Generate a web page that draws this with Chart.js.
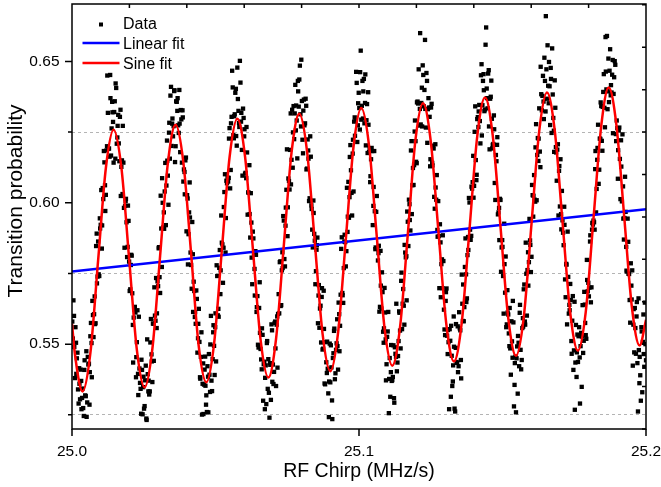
<!DOCTYPE html>
<html>
<head>
<meta charset="utf-8">
<script src="https://cdn.jsdelivr.net/npm/chart.js@4.4.1/dist/chart.umd.min.js"></script>
<style>
  html, body { margin: 0; padding: 0; background: #fff; }
</style>
</head>
<body>
<canvas id="chart" width="661" height="487"></canvas>
<script>
const FONT = '"Liberation Sans", Arial, Helvetica, sans-serif';

// measured transition probability vs RF chirp, first sweep (one row per oscillation)
const dataX = [
  25.0001,25.0005,25.0008,25.0012,25.0015,25.0019,25.0023,25.0026,25.0030,25.0033,
  25.0037,25.0041,25.0044,25.0048,25.0051,25.0055,25.0059,25.0062,25.0066,25.0069,25.0073,25.0077,25.0080,25.0084,25.0087,25.0091,25.0095,25.0098,25.0102,25.0105,25.0109,25.0113,25.0116,25.0120,25.0123,25.0127,25.0131,25.0134,25.0138,25.0141,25.0145,25.0149,25.0152,25.0156,25.0159,25.0163,25.0167,25.0170,25.0174,25.0177,25.0181,25.0185,25.0188,25.0192,25.0195,25.0199,25.0203,25.0206,25.0210,25.0213,25.0217,25.0221,25.0224,25.0228,25.0231,25.0235,25.0239,25.0242,25.0246,25.0249,
  25.0253,25.0257,25.0260,25.0264,25.0267,25.0271,25.0275,25.0278,25.0282,25.0285,25.0289,25.0293,25.0296,25.0300,25.0303,25.0307,25.0311,25.0314,25.0318,25.0321,25.0325,25.0329,25.0332,25.0336,25.0339,25.0343,25.0347,25.0350,25.0354,25.0357,25.0361,25.0365,25.0368,25.0372,25.0375,25.0379,25.0383,25.0386,25.0390,25.0393,25.0397,25.0401,25.0404,25.0408,25.0411,25.0415,25.0419,25.0422,25.0426,25.0429,25.0433,25.0437,25.0440,25.0444,25.0447,25.0451,25.0455,25.0458,25.0462,25.0465,
  25.0468,25.0472,25.0475,25.0479,25.0482,25.0486,25.0490,25.0493,25.0497,25.0500,25.0504,25.0508,25.0511,25.0515,25.0518,25.0522,25.0526,25.0529,25.0533,25.0536,25.0540,25.0544,25.0547,25.0551,25.0554,25.0558,25.0562,25.0565,25.0569,25.0572,25.0576,25.0580,25.0583,25.0587,25.0590,25.0594,25.0598,25.0601,25.0605,25.0608,25.0612,25.0616,25.0619,25.0623,25.0626,25.0630,25.0634,25.0637,25.0641,25.0644,25.0648,25.0652,25.0655,25.0659,25.0662,25.0666,25.0670,25.0673,25.0677,25.0680,
  25.0684,25.0688,25.0691,25.0695,25.0698,25.0702,25.0706,25.0709,25.0713,25.0716,25.0720,25.0724,25.0727,25.0731,25.0734,25.0738,25.0742,25.0745,25.0749,25.0752,25.0756,25.0760,25.0763,25.0767,25.0770,25.0774,25.0778,25.0781,25.0785,25.0788,25.0792,25.0796,25.0799,25.0803,25.0806,25.0810,25.0814,25.0817,25.0821,25.0824,25.0828,25.0832,25.0835,25.0839,25.0842,25.0846,25.0850,25.0853,25.0857,25.0860,25.0864,25.0868,25.0871,25.0875,25.0878,25.0882,25.0886,25.0889,25.0893,25.0896,
  25.0900,25.0904,25.0907,25.0911,25.0914,25.0918,25.0922,25.0925,25.0929,25.0932,25.0936,25.0940,25.0943,25.0947,25.0950,25.0954,25.0958,25.0961,25.0965,25.0968,25.0972,25.0976,25.0979,25.0983,25.0986,25.0990,25.0994,25.0997,25.1001,25.1004,25.1008,25.1012,25.1015,25.1019,25.1022,25.1026,25.1030,25.1033,25.1037,25.1040,25.1044,25.1048,25.1051,25.1055,25.1058,25.1062,25.1066,25.1069,25.1073,25.1076,25.1080,25.1084,25.1087,25.1091,25.1094,25.1098,25.1102,25.1105,25.1109,25.1112,
  25.1116,25.1120,25.1123,25.1127,25.1130,25.1134,25.1138,25.1141,25.1145,25.1148,25.1152,25.1156,25.1159,25.1163,25.1166,25.1170,25.1174,25.1177,25.1181,25.1184,25.1188,25.1192,25.1195,25.1199,25.1202,25.1206,25.1210,25.1213,25.1217,25.1220,25.1224,25.1228,25.1231,25.1235,25.1238,25.1242,25.1246,25.1249,25.1253,25.1256,25.1260,25.1264,25.1267,25.1271,25.1274,25.1278,25.1282,25.1285,25.1289,25.1292,25.1296,25.1300,25.1303,25.1307,25.1310,25.1314,25.1318,25.1321,25.1325,25.1328,
  25.1331,25.1335,25.1338,25.1342,25.1345,25.1349,25.1353,25.1356,25.1360,25.1363,25.1367,25.1371,25.1374,25.1378,25.1381,25.1385,25.1389,25.1392,25.1396,25.1399,25.1403,25.1407,25.1410,25.1414,25.1417,25.1421,25.1425,25.1428,25.1432,25.1435,25.1439,25.1443,25.1446,25.1450,25.1453,25.1457,25.1461,25.1464,25.1468,25.1471,25.1475,25.1479,25.1482,25.1486,25.1489,25.1493,25.1497,25.1500,25.1504,25.1507,25.1511,25.1515,25.1518,25.1522,25.1525,25.1529,25.1533,25.1536,25.1540,25.1543,
  25.1547,25.1551,25.1554,25.1558,25.1561,25.1565,25.1569,25.1572,25.1576,25.1579,25.1583,25.1587,25.1590,25.1594,25.1597,25.1601,25.1605,25.1608,25.1612,25.1615,25.1619,25.1623,25.1626,25.1630,25.1633,25.1637,25.1641,25.1644,25.1648,25.1651,25.1655,25.1659,25.1662,25.1666,25.1669,25.1673,25.1677,25.1680,25.1684,25.1687,25.1691,25.1695,25.1698,25.1702,25.1705,25.1709,25.1713,25.1716,25.1720,25.1723,25.1727,25.1731,25.1734,25.1738,25.1741,25.1745,25.1749,25.1752,25.1756,25.1759,
  25.1763,25.1767,25.1770,25.1774,25.1777,25.1781,25.1785,25.1788,25.1792,25.1795,25.1799,25.1803,25.1806,25.1810,25.1813,25.1817,25.1821,25.1824,25.1828,25.1831,25.1835,25.1839,25.1842,25.1846,25.1849,25.1853,25.1857,25.1860,25.1864,25.1867,25.1871,25.1875,25.1878,25.1882,25.1885,25.1889,25.1893,25.1896,25.1900,25.1903,25.1907,25.1911,25.1914,25.1918,25.1921,25.1925,25.1929,25.1932,25.1936,25.1939,25.1943,25.1947,25.1950,25.1954,25.1957,25.1961,25.1965,25.1968,25.1972,25.1975,
  25.1978,25.1982,25.1985,25.1989,25.1992,25.1996,25.2000
];
const dataY = [
  0.5580,0.5655,0.5490,0.5560,0.5395,0.5470,0.5290,0.5360,0.5410,0.5270,
  0.5343,0.5246,0.5443,0.5316,0.5243,0.5455,0.5431,0.5401,0.5575,0.5383,0.5603,0.5606,0.5571,0.5847,0.5715,0.5863,0.5741,0.5909,0.6045,0.5920,0.6013,0.6143,0.5971,0.6185,0.6450,0.6191,0.6163,0.6370,0.6263,0.6320,0.6142,0.6359,0.6422,0.6209,0.6272,0.6210,0.6304,0.6024,0.6150,0.6272,0.5982,0.5989,0.6014,0.5808,0.5990,0.5792,0.5694,0.5816,0.5680,0.5435,0.5622,0.5612,0.5454,0.5620,0.5320,0.5414,0.5342,0.5445,0.5252,0.5385,
  0.5281,0.5424,0.5232,0.5394,0.5371,0.5333,0.5589,0.5439,0.5573,0.5441,0.5601,0.5734,0.5609,0.5705,0.5843,0.5681,0.5909,0.6087,0.5913,0.5908,0.6141,0.6061,0.6149,0.5993,0.6283,0.6379,0.6201,0.6298,0.6271,0.6398,0.6200,0.6357,0.6370,0.6247,0.6280,0.6328,0.6142,0.6302,0.6118,0.6030,0.6160,0.6027,0.5782,0.5966,0.5948,0.5780,0.5932,0.5614,0.5688,0.5613,0.5690,0.5470,0.5572,0.5508,0.5378,0.5542,0.5360,0.5253,0.5410,0.5353,
  0.5319,0.5422,0.5259,0.5392,0.5499,0.5371,0.5447,0.5567,0.5391,0.5609,0.5779,0.5602,0.5597,0.5833,0.5761,0.5859,0.5717,0.5985,0.6101,0.5946,0.6069,0.6075,0.6227,0.6051,0.6281,0.6467,0.6239,0.6306,0.6389,0.6236,0.6478,0.6325,0.6268,0.6425,0.6318,0.6096,0.6300,0.6260,0.6106,0.6268,0.5958,0.6035,0.5960,0.6034,0.5806,0.5898,0.5820,0.5672,0.5816,0.5631,0.5498,0.5628,0.5540,0.5446,0.5556,0.5300,0.5438,0.5381,0.5288,0.5511,
  0.5447,0.5240,0.5427,0.5570,0.5367,0.5359,0.5575,0.5485,0.5569,0.5417,0.5677,0.5790,0.5635,0.5761,0.5769,0.5937,0.5775,0.5983,0.6189,0.5984,0.6077,0.6187,0.6065,0.6329,0.6249,0.6225,0.6417,0.6344,0.6157,0.6394,0.6436,0.6313,0.6506,0.6223,0.6326,0.6274,0.6368,0.6118,0.6224,0.6156,0.6016,0.6163,0.5978,0.5842,0.5964,0.5866,0.5758,0.5850,0.5574,0.5709,0.5626,0.5506,0.5698,0.5484,0.5554,0.5358,0.5436,0.5509,0.5326,0.5368,
  0.5365,0.5418,0.5235,0.5468,0.5555,0.5397,0.5503,0.5493,0.5647,0.5475,0.5675,0.5878,0.5673,0.5769,0.5887,0.5775,0.6053,0.5951,0.5947,0.6162,0.6115,0.5955,0.6223,0.6287,0.6237,0.6463,0.6215,0.6352,0.6335,0.6462,0.6294,0.6431,0.6394,0.6281,0.6454,0.6292,0.6176,0.6276,0.6192,0.6094,0.6194,0.5921,0.6056,0.5970,0.5842,0.6024,0.5796,0.5848,0.5632,0.5707,0.5754,0.5544,0.5556,0.5612,0.5372,0.5526,0.5614,0.5377,0.5314,0.5497,
  0.5373,0.5496,0.5293,0.5466,0.5643,0.5435,0.5511,0.5611,0.5485,0.5753,0.5643,0.5636,0.5851,0.5807,0.5655,0.5933,0.6011,0.5939,0.6185,0.5960,0.6123,0.6133,0.6291,0.6145,0.6355,0.6351,0.6273,0.6600,0.6353,0.6270,0.6452,0.6399,0.6332,0.6459,0.6212,0.6370,0.6304,0.6154,0.6350,0.6132,0.6192,0.5979,0.6054,0.6098,0.5880,0.5882,0.5924,0.5666,0.5800,0.5885,0.5622,0.5532,0.5684,0.5530,0.5550,0.5270,0.5512,0.5565,0.5352,0.5425,
  0.5491,0.5262,0.5571,0.5434,0.5401,0.5613,0.5549,0.5379,0.5643,0.5711,0.5631,0.5874,0.5649,0.5815,0.5833,0.6001,0.5869,0.6057,0.6073,0.6018,0.6251,0.6151,0.6099,0.6303,0.6323,0.6289,0.6451,0.6238,0.6431,0.6398,0.6330,0.6620,0.6370,0.6457,0.6270,0.6368,0.6432,0.6192,0.6208,0.6260,0.6010,0.6147,0.6232,0.5966,0.5868,0.6010,0.5842,0.5844,0.5608,0.5783,0.5810,0.5570,0.5612,0.5538,0.5628,0.5392,0.5510,0.5653,0.5280,0.5433,
  0.5259,0.5492,0.5529,0.5422,0.5639,0.5411,0.5557,0.5562,0.5711,0.5569,0.5749,0.5762,0.5707,0.5943,0.5851,0.5809,0.6027,0.6025,0.6011,0.6196,0.6009,0.6229,0.6227,0.6181,0.6481,0.6327,0.6449,0.6296,0.6431,0.6660,0.6368,0.6414,0.6498,0.6275,0.6438,0.6546,0.6300,0.6180,0.6336,0.6178,0.6188,0.5955,0.6130,0.6154,0.5906,0.5938,0.5850,0.5922,0.5666,0.5781,0.5898,0.5608,0.5620,0.5656,0.5466,0.5670,0.5478,0.5268,0.5568,0.5471,
  0.5437,0.5560,0.5290,0.5540,0.5527,0.5469,0.5685,0.5575,0.5519,0.5727,0.5717,0.5700,0.5885,0.5701,0.5929,0.5937,0.5905,0.6183,0.6049,0.6194,0.6067,0.6227,0.6355,0.6219,0.6339,0.6455,0.6267,0.6464,0.6590,0.6394,0.6356,0.6543,0.6416,0.6453,0.6246,0.6444,0.6488,0.6218,0.6264,0.6186,0.6266,0.6013,0.6128,0.6242,0.5944,0.5946,0.5968,0.5760,0.5944,0.5749,0.5656,0.5786,0.5658,0.5424,0.5624,0.5628,0.5466,0.5649,0.5262,0.5479,
  0.5455,0.5300,0.5545,0.5508,0.5465,0.5647,0.5443
];

// second sweep, interleaved with the first
const dataX2 = [
  25.0003,25.0007,25.0010,25.0014,25.0017,25.0021,25.0025,25.0028,25.0032,25.0035,
  25.0039,25.0043,25.0046,25.0050,25.0053,25.0057,25.0061,25.0064,25.0068,25.0071,25.0075,25.0079,25.0082,25.0086,25.0089,25.0093,25.0097,25.0100,25.0104,25.0107,25.0111,25.0115,25.0118,25.0122,25.0125,25.0129,25.0133,25.0136,25.0140,25.0143,25.0147,25.0151,25.0154,25.0158,25.0161,25.0165,25.0169,25.0172,25.0176,25.0179,25.0183,25.0187,25.0190,25.0194,25.0197,25.0201,25.0205,25.0208,25.0212,25.0215,25.0219,25.0223,25.0226,25.0230,25.0233,25.0237,25.0241,25.0244,25.0248,25.0251,
  25.0255,25.0259,25.0262,25.0266,25.0269,25.0273,25.0277,25.0280,25.0284,25.0287,25.0291,25.0295,25.0298,25.0302,25.0305,25.0309,25.0313,25.0316,25.0320,25.0323,25.0327,25.0331,25.0334,25.0338,25.0341,25.0345,25.0349,25.0352,25.0356,25.0359,25.0363,25.0367,25.0370,25.0374,25.0377,25.0381,25.0385,25.0388,25.0392,25.0395,25.0399,25.0403,25.0406,25.0410,25.0413,25.0417,25.0421,25.0424,25.0428,25.0431,25.0435,25.0439,25.0442,25.0446,25.0449,25.0453,25.0457,25.0460,25.0464,25.0467,
  25.0470,25.0474,25.0477,25.0481,25.0484,25.0488,25.0492,25.0495,25.0499,25.0502,25.0506,25.0510,25.0513,25.0517,25.0520,25.0524,25.0528,25.0531,25.0535,25.0538,25.0542,25.0546,25.0549,25.0553,25.0556,25.0560,25.0564,25.0567,25.0571,25.0574,25.0578,25.0582,25.0585,25.0589,25.0592,25.0596,25.0600,25.0603,25.0607,25.0610,25.0614,25.0618,25.0621,25.0625,25.0628,25.0632,25.0636,25.0639,25.0643,25.0646,25.0650,25.0654,25.0657,25.0661,25.0664,25.0668,25.0672,25.0675,25.0679,25.0682,
  25.0686,25.0690,25.0693,25.0697,25.0700,25.0704,25.0708,25.0711,25.0715,25.0718,25.0722,25.0726,25.0729,25.0733,25.0736,25.0740,25.0744,25.0747,25.0751,25.0754,25.0758,25.0762,25.0765,25.0769,25.0772,25.0776,25.0780,25.0783,25.0787,25.0790,25.0794,25.0798,25.0801,25.0805,25.0808,25.0812,25.0816,25.0819,25.0823,25.0826,25.0830,25.0834,25.0837,25.0841,25.0844,25.0848,25.0852,25.0855,25.0859,25.0862,25.0866,25.0870,25.0873,25.0877,25.0880,25.0884,25.0888,25.0891,25.0895,25.0898,
  25.0902,25.0906,25.0909,25.0913,25.0916,25.0920,25.0924,25.0927,25.0931,25.0934,25.0938,25.0942,25.0945,25.0949,25.0952,25.0956,25.0960,25.0963,25.0967,25.0970,25.0974,25.0978,25.0981,25.0985,25.0988,25.0992,25.0996,25.0999,25.1003,25.1006,25.1010,25.1014,25.1017,25.1021,25.1024,25.1028,25.1032,25.1035,25.1039,25.1042,25.1046,25.1050,25.1053,25.1057,25.1060,25.1064,25.1068,25.1071,25.1075,25.1078,25.1082,25.1086,25.1089,25.1093,25.1096,25.1100,25.1104,25.1107,25.1111,25.1114,
  25.1118,25.1122,25.1125,25.1129,25.1132,25.1136,25.1140,25.1143,25.1147,25.1150,25.1154,25.1158,25.1161,25.1165,25.1168,25.1172,25.1176,25.1179,25.1183,25.1186,25.1190,25.1194,25.1197,25.1201,25.1204,25.1208,25.1212,25.1215,25.1219,25.1222,25.1226,25.1230,25.1233,25.1237,25.1240,25.1244,25.1248,25.1251,25.1255,25.1258,25.1262,25.1266,25.1269,25.1273,25.1276,25.1280,25.1284,25.1287,25.1291,25.1294,25.1298,25.1302,25.1305,25.1309,25.1312,25.1316,25.1320,25.1323,25.1327,25.1330,
  25.1333,25.1337,25.1340,25.1344,25.1347,25.1351,25.1355,25.1358,25.1362,25.1365,25.1369,25.1373,25.1376,25.1380,25.1383,25.1387,25.1391,25.1394,25.1398,25.1401,25.1405,25.1409,25.1412,25.1416,25.1419,25.1423,25.1427,25.1430,25.1434,25.1437,25.1441,25.1445,25.1448,25.1452,25.1455,25.1459,25.1463,25.1466,25.1470,25.1473,25.1477,25.1481,25.1484,25.1488,25.1491,25.1495,25.1499,25.1502,25.1506,25.1509,25.1513,25.1517,25.1520,25.1524,25.1527,25.1531,25.1535,25.1538,25.1542,25.1545,
  25.1549,25.1553,25.1556,25.1560,25.1563,25.1567,25.1571,25.1574,25.1578,25.1581,25.1585,25.1589,25.1592,25.1596,25.1599,25.1603,25.1607,25.1610,25.1614,25.1617,25.1621,25.1625,25.1628,25.1632,25.1635,25.1639,25.1643,25.1646,25.1650,25.1653,25.1657,25.1661,25.1664,25.1668,25.1671,25.1675,25.1679,25.1682,25.1686,25.1689,25.1693,25.1697,25.1700,25.1704,25.1707,25.1711,25.1715,25.1718,25.1722,25.1725,25.1729,25.1733,25.1736,25.1740,25.1743,25.1747,25.1751,25.1754,25.1758,25.1761,
  25.1765,25.1769,25.1772,25.1776,25.1779,25.1783,25.1787,25.1790,25.1794,25.1797,25.1801,25.1805,25.1808,25.1812,25.1815,25.1819,25.1823,25.1826,25.1830,25.1833,25.1837,25.1841,25.1844,25.1848,25.1851,25.1855,25.1859,25.1862,25.1866,25.1869,25.1873,25.1877,25.1880,25.1884,25.1887,25.1891,25.1895,25.1898,25.1902,25.1905,25.1909,25.1913,25.1916,25.1920,25.1923,25.1927,25.1931,25.1934,25.1938,25.1941,25.1945,25.1949,25.1952,25.1956,25.1959,25.1963,25.1967,25.1970,25.1974,25.1977,
  25.1980,25.1984,25.1987,25.1991,25.1994,25.1998
];
const dataY2 = [
  0.5520,0.5600,0.5380,0.5505,0.5450,0.5340,0.5415,0.5305,0.5370,0.5310,
  0.5274,0.5409,0.5319,0.5475,0.5294,0.5428,0.5286,0.5528,0.5504,0.5653,0.5525,0.5669,0.5574,0.5891,0.5739,0.5747,0.5945,0.5922,0.5838,0.6052,0.6183,0.6062,0.6028,0.6200,0.6318,0.6192,0.6452,0.6167,0.6357,0.6286,0.6321,0.6156,0.6406,0.6231,0.6311,0.6147,0.6329,0.6127,0.6031,0.6142,0.5841,0.6007,0.5931,0.5844,0.5936,0.5688,0.5780,0.5813,0.5568,0.5594,0.5632,0.5383,0.5507,0.5395,0.5597,0.5363,0.5254,0.5409,0.5348,0.5272,
  0.5372,0.5237,0.5517,0.5333,0.5322,0.5506,0.5464,0.5366,0.5572,0.5701,0.5583,0.5557,0.5722,0.5839,0.5737,0.6025,0.5773,0.6000,0.5966,0.6040,0.5921,0.6220,0.6096,0.6248,0.6156,0.6410,0.6280,0.6235,0.6395,0.6144,0.6359,0.6325,0.6274,0.6399,0.6179,0.6295,0.6327,0.6075,0.6109,0.6150,0.5899,0.6015,0.5889,0.6072,0.5824,0.5696,0.5818,0.5721,0.5596,0.5572,0.5660,0.5521,0.5625,0.5383,0.5455,0.5251,0.5432,0.5357,0.5456,0.5286,
  0.5260,0.5385,0.5465,0.5331,0.5600,0.5334,0.5542,0.5494,0.5560,0.5439,0.5741,0.5625,0.5770,0.5677,0.5955,0.5853,0.5841,0.6038,0.5824,0.6078,0.6089,0.6088,0.6264,0.6116,0.6304,0.6408,0.6228,0.6313,0.6403,0.6202,0.6367,0.6282,0.6502,0.6287,0.6187,0.6333,0.6235,0.6103,0.6087,0.6178,0.6037,0.6133,0.5877,0.5930,0.5712,0.5874,0.5766,0.5829,0.5614,0.5670,0.5488,0.5719,0.5483,0.5411,0.5533,0.5429,0.5270,0.5425,0.5504,0.5342,
  0.5328,0.5433,0.5303,0.5549,0.5428,0.5402,0.5580,0.5352,0.5598,0.5607,0.5609,0.5793,0.5638,0.5825,0.5953,0.5801,0.5919,0.6046,0.5882,0.6086,0.6047,0.6316,0.6152,0.6124,0.6342,0.6316,0.6256,0.6291,0.6431,0.6340,0.6485,0.6270,0.6360,0.6175,0.6365,0.6281,0.6343,0.6121,0.6185,0.6006,0.6235,0.5991,0.5905,0.6008,0.5890,0.5712,0.5834,0.5877,0.5672,0.5558,0.5636,0.5667,0.5481,0.5689,0.5361,0.5507,0.5398,0.5413,0.5242,0.5502,
  0.5496,0.5301,0.5451,0.5547,0.5376,0.5480,0.5588,0.5410,0.5606,0.5565,0.5837,0.5681,0.5646,0.5863,0.5861,0.5829,0.5897,0.6074,0.6020,0.6204,0.6035,0.6174,0.6040,0.6302,0.6290,0.6424,0.6274,0.6389,0.6259,0.6538,0.6343,0.6298,0.6438,0.6353,0.6203,0.6349,0.6391,0.6179,0.6073,0.6154,0.6183,0.5989,0.6183,0.5836,0.5968,0.5840,0.5822,0.5615,0.5830,0.5626,0.5684,0.5505,0.5699,0.5517,0.5429,0.5545,0.5256,0.5451,0.5401,0.5370,
  0.5384,0.5309,0.5489,0.5455,0.5404,0.5458,0.5616,0.5548,0.5724,0.5553,0.5695,0.5569,0.5824,0.5811,0.5969,0.5847,0.5995,0.5902,0.6218,0.6062,0.6063,0.6252,0.6218,0.6140,0.6358,0.6472,0.6332,0.6277,0.6407,0.6486,0.6341,0.6576,0.6266,0.6431,0.6331,0.6337,0.6129,0.6337,0.6141,0.6202,0.6021,0.6207,0.6011,0.5904,0.6006,0.5698,0.5860,0.5783,0.5698,0.5794,0.5552,0.5653,0.5697,0.5465,0.5507,0.5553,0.5314,0.5459,0.5368,0.5598,
  0.5272,0.5487,0.5437,0.5563,0.5422,0.5556,0.5444,0.5746,0.5582,0.5581,0.5773,0.5747,0.5662,0.5879,0.6017,0.5905,0.5883,0.6050,0.6166,0.6060,0.6341,0.6080,0.6296,0.6268,0.6346,0.6210,0.6490,0.6345,0.6455,0.6324,0.6559,0.6404,0.6334,0.6469,0.6189,0.6375,0.6297,0.6205,0.6309,0.6070,0.6169,0.6205,0.5959,0.5982,0.6014,0.5756,0.5868,0.5741,0.5926,0.5682,0.5560,0.5691,0.5605,0.5493,0.5485,0.5581,0.5452,0.5577,0.5356,0.5456,
  0.5450,0.5325,0.5505,0.5611,0.5480,0.5444,0.5592,0.5694,0.5580,0.5859,0.5601,0.5825,0.5790,0.5867,0.5755,0.6063,0.5951,0.6098,0.6004,0.6278,0.6169,0.6148,0.6334,0.6126,0.6384,0.6378,0.6358,0.6513,0.6323,0.6472,0.6557,0.6352,0.6412,0.6477,0.6247,0.6383,0.6255,0.6433,0.6197,0.6078,0.6207,0.6113,0.5987,0.5960,0.6042,0.5894,0.5986,0.5729,0.5784,0.5570,0.5738,0.5639,0.5713,0.5511,0.5583,0.5409,0.5650,0.5435,0.5384,0.5534,
  0.5528,0.5453,0.5493,0.5349,0.5638,0.5512,0.5640,0.5532,0.5798,0.5687,0.5669,0.5863,0.5648,0.5905,0.5923,0.5931,0.6119,0.5966,0.6152,0.6276,0.6117,0.6226,0.6342,0.6184,0.6392,0.6336,0.6586,0.6401,0.6331,0.6510,0.6467,0.6380,0.6390,0.6505,0.6385,0.6501,0.6243,0.6291,0.6085,0.6256,0.6155,0.6221,0.6005,0.6058,0.5870,0.6092,0.5844,0.5757,0.5862,0.5748,0.5576,0.5707,0.5761,0.5569,0.5471,0.5557,0.5598,0.5433,0.5662,0.5362,
  0.5390,0.5560,0.5330,0.5605,0.5420,0.5500
];

// sine fit curve
const sineX = [25.0000,25.0010,
  25.0037,25.0064,25.0091,25.0118,25.0145,25.0172,25.0199,25.0226,
  25.0253,25.0280,25.0307,25.0334,25.0361,25.0388,25.0415,25.0441,
  25.0468,25.0495,25.0522,25.0549,25.0576,25.0603,25.0630,25.0657,
  25.0684,25.0711,25.0738,25.0765,25.0792,25.0819,25.0846,25.0873,
  25.0900,25.0927,25.0954,25.0981,25.1008,25.1035,25.1062,25.1089,
  25.1116,25.1143,25.1170,25.1196,25.1223,25.1250,25.1277,25.1304,
  25.1331,25.1358,25.1385,25.1412,25.1439,25.1466,25.1493,25.1520,
  25.1547,25.1574,25.1601,25.1628,25.1655,25.1682,25.1709,25.1736,
  25.1763,25.1790,25.1817,25.1844,25.1870,25.1897,25.1924,25.1951,
  25.1978,25.2000];
const sineY = [0.5572,0.5466,
  0.5333,0.5468,0.5796,0.6123,0.6258,0.6125,0.5803,0.5480,
  0.5347,0.5483,0.5812,0.6140,0.6276,0.6143,0.5821,0.5498,
  0.5365,0.5501,0.5831,0.6161,0.6297,0.6163,0.5840,0.5516,
  0.5382,0.5519,0.5849,0.6178,0.6315,0.6182,0.5860,0.5537,
  0.5404,0.5540,0.5870,0.6199,0.6335,0.6202,0.5880,0.5557,
  0.5424,0.5560,0.5888,0.6216,0.6352,0.6218,0.5896,0.5573,
  0.5439,0.5576,0.5906,0.6235,0.6372,0.6238,0.5916,0.5593,
  0.5459,0.5595,0.5925,0.6254,0.6390,0.6256,0.5934,0.5611,
  0.5477,0.5613,0.5943,0.6272,0.6408,0.6274,0.5952,0.5629,
  0.5495,0.5586];

// linear fit end points
const linX = [25.0, 25.2];
const linY = [0.5757, 0.5977];

// axis ticks
const xTicks = [25.0, 25.1, 25.2];
const yTicks = [0.525, 0.55, 0.575, 0.60, 0.625, 0.65];
const yLabelled = [0.55, 0.60, 0.65];
const topTicks = [25.02, 25.04, 25.06, 25.08, 25.10, 25.12, 25.14, 25.16, 25.18];
const rightTicks = [0.52, 0.535, 0.55, 0.565, 0.58, 0.595, 0.61, 0.625, 0.64, 0.655, 0.67];

const toPts = (xs, ys) => xs.map((x, i) => ({ x: x, y: ys[i] }));

// frame, inner/outer tick marks, axis titles and legend
const decor = {
  id: 'decor',
  afterDatasetsDraw(chart) {
    const { ctx, chartArea: a, scales: { x, y } } = chart;
    ctx.save();
    ctx.strokeStyle = '#000';
    ctx.lineWidth = 1.5;
    ctx.strokeRect(a.left, a.top, a.right - a.left, a.bottom - a.top);
    ctx.beginPath();
    yTicks.forEach(v => {
      const py = y.getPixelForValue(v);
      const len = yLabelled.includes(v) ? 7 : 4;
      ctx.moveTo(a.left - len, py);
      ctx.lineTo(a.left, py);
    });
    xTicks.forEach(v => {
      const px = x.getPixelForValue(v);
      ctx.moveTo(px, a.bottom);
      ctx.lineTo(px, a.bottom + 7);
    });
    topTicks.forEach(v => {
      const px = x.getPixelForValue(v);
      ctx.moveTo(px, a.top);
      ctx.lineTo(px, a.top + 4);
    });
    rightTicks.forEach(v => {
      const py = y.getPixelForValue(v);
      ctx.moveTo(a.right, py);
      ctx.lineTo(a.right - 4, py);
    });
    ctx.stroke();

    // axis titles
    ctx.fillStyle = '#000';
    ctx.textBaseline = 'alphabetic';
    ctx.textAlign = 'center';
    ctx.font = '19.5px ' + FONT;
    ctx.fillText('RF Chirp (MHz/s)', (a.left + a.right) / 2, a.bottom + 47.5);
    ctx.save();
    ctx.translate(a.left - 50.5, a.top + 197);
    ctx.rotate(-Math.PI / 2);
    ctx.font = '21px ' + FONT;
    ctx.fillText('Transition probability', 0, 0);
    ctx.restore();

    // legend
    const ds = chart.data.datasets;
    const lx = a.left + 51;
    ctx.font = '16px ' + FONT;
    ctx.textAlign = 'left';
    ctx.fillStyle = '#000';
    ctx.fillRect(a.left + 27, a.top + 18.5, 4, 4);
    ctx.fillText(ds[2].label, lx, a.top + 24.5);
    [[ds[1], 39], [ds[0], 59]].forEach(([d, dy]) => {
      ctx.strokeStyle = d.borderColor;
      ctx.lineWidth = 2.5;
      ctx.beginPath();
      ctx.moveTo(a.left + 10.5, a.top + dy);
      ctx.lineTo(a.left + 47.5, a.top + dy);
      ctx.stroke();
      ctx.fillText(d.label, lx, a.top + dy + 5.5);
    });
    ctx.restore();
  }
};

const ctx = document.getElementById('chart').getContext('2d');
Chart.defaults.font.family = FONT;
Chart.defaults.color = '#000';

new Chart(ctx, {
  type: 'scatter',
  data: {
    datasets: [
      {
        type: 'line',
        label: 'Sine fit',
        data: toPts(sineX, sineY),
        borderColor: '#ff0000',
        borderWidth: 2.5,
        pointRadius: 0,
        cubicInterpolationMode: 'monotone',
        fill: false,
        order: 0
      },
      {
        type: 'line',
        label: 'Linear fit',
        data: toPts(linX, linY),
        borderColor: '#0000ff',
        borderWidth: 2.5,
        pointRadius: 0,
        fill: false,
        order: 1
      },
      {
        label: 'Data',
        data: toPts(dataX.concat(dataX2), dataY.concat(dataY2)),
        pointStyle: 'rect',
        pointRadius: 3.05,
        pointBackgroundColor: '#000',
        pointBorderWidth: 0,
        order: 2
      }
    ]
  },
  options: {
    responsive: false,
    animation: false,
    events: [],
    layout: { padding: { left: 0, right: 15, top: 2, bottom: 0 } },
    plugins: { legend: { display: false }, tooltip: { enabled: false } },
    scales: {
      x: {
        type: 'linear',
        min: 25.0,
        max: 25.2,
        afterBuildTicks: s => { s.ticks = xTicks.map(v => ({ value: v })); },
        afterFit: s => { s.height = 58; s.paddingLeft = 0; s.paddingRight = 0; },
        ticks: {
          autoSkip: false,
          maxRotation: 0,
          padding: 6,
          font: { size: 15.5 },
          callback: v => v.toFixed(1)
        },
        grid: { color: 'rgba(0,0,0,0)', drawTicks: true, tickLength: 7, tickColor: 'rgba(0,0,0,0)' },
        border: { display: false }
      },
      y: {
        type: 'linear',
        min: 0.52,
        max: 0.6703,
        afterBuildTicks: s => { s.ticks = yTicks.map(v => ({ value: v })); },
        afterFit: s => { s.width = 72; s.paddingTop = 0; s.paddingBottom = 0; },
        ticks: {
          autoSkip: false,
          padding: 5.5,
          font: { size: 15.5 },
          callback: v => yLabelled.includes(v) ? v.toFixed(2) : ''
        },
        grid: {
          color: c => (c.tick && !yLabelled.includes(c.tick.value)) ? '#b4b4b4' : 'rgba(0,0,0,0)',
          lineWidth: 1,
          drawTicks: true,
          tickLength: 7,
          tickColor: 'rgba(0,0,0,0)'
        },
        border: { display: false, dash: [3, 3] }
      }
    }
  },
  plugins: [decor]
});
</script>
</body>
</html>
